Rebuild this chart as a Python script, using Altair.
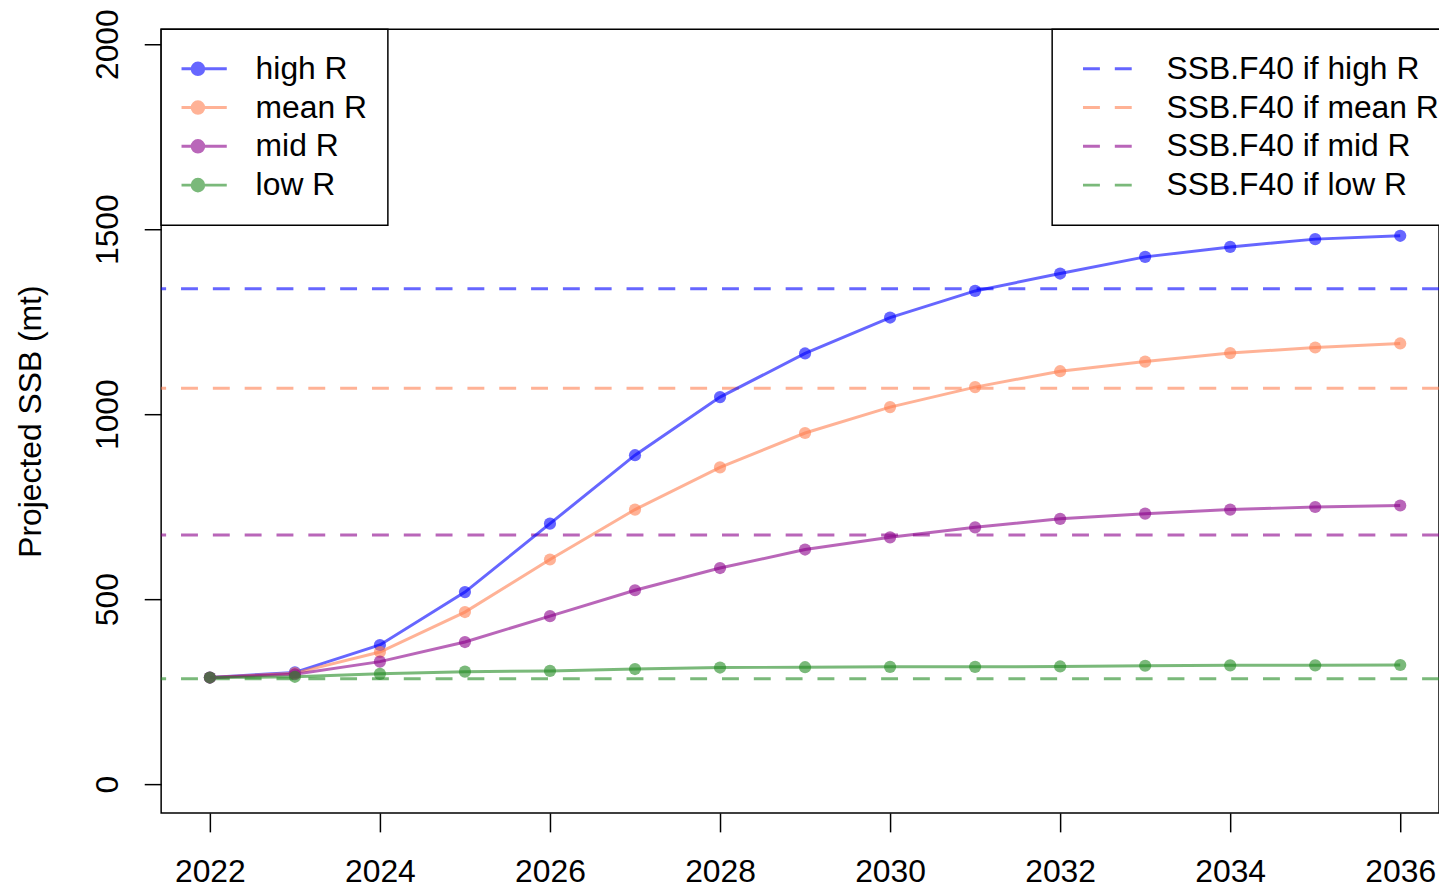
import altair as alt
import pandas as pd

years = list(range(2022, 2037))
series_names = ["high R", "mean R", "mid R", "low R"]
high_r = [288, 302, 376, 519, 704, 889, 1046, 1164, 1261, 1333, 1380, 1425, 1452, 1473, 1482]
mean_r = [288, 300, 357, 465, 607, 742, 856, 949, 1019, 1073, 1116, 1142, 1165, 1180, 1191]
mid_r = [288, 297, 331, 384, 454, 524, 584, 634, 667, 694, 717, 731, 742, 749, 753]
low_r = [288, 290, 298, 304, 306, 311, 315, 316, 317, 317, 318, 320, 321, 321, 322]
series_colors = ["#0000ff", "#ff7f50", "#8b008b", "#228b22"]

ref_names = ["SSB.F40 if high R", "SSB.F40 if mean R", "SSB.F40 if mid R", "SSB.F40 if low R"]
ref_values = [1339, 1070, 673, 285]

x_ticks = [2022, 2024, 2026, 2028, 2030, 2032, 2034, 2036]
y_ticks = [0, 500, 1000, 1500, 2000]

FONT = "Liberation Sans, Arial, sans-serif"
AXIS_FS = 32
LEG_FS = 32

rows = []
for name, vals in zip(series_names, [high_r, mean_r, mid_r, low_r]):
    for yr, v in zip(years, vals):
        rows.append({"year": yr, "ssb": v, "series": name})
df = pd.DataFrame(rows)
ref_df = pd.DataFrame({"ref": ref_names, "value": ref_values})

x_scale = alt.Scale(domain=[2021.427, 2036.456], nice=False, zero=False)
y_scale = alt.Scale(domain=[-78, 2040], nice=False, zero=False)

# legend glyph: a line with a dot in the middle
line_symbol = (
    "M-1,0L1,0"
    "M-0.2,0A0.2,0.2,0,1,1,0.2,0A0.2,0.2,0,1,1,-0.2,0"
    "M-0.12,0A0.12,0.12,0,1,1,0.12,0A0.12,0.12,0,1,1,-0.12,0"
    "M-0.04,0A0.04,0.04,0,1,1,0.04,0A0.04,0.04,0,1,1,-0.04,0"
)

color_legend = alt.Legend(
    orient="none", legendX=0, legendY=0, title=None, direction="vertical",
    strokeColor="black", fillColor="white", padding=20.5,
    symbolType=line_symbol, symbolSize=3364, symbolStrokeWidth=3,
    symbolOpacity=0.6, symbolOffset=-14, labelOffset=27.5,
    clipHeight=38.3, rowPadding=0, labelLimit=0,
)

x_axis = alt.Axis(
    values=x_ticks, format="d", title=None, tickSize=19, labelPadding=50,
    labelBaseline="alphabetic", grid=False, domain=False,
)
y_axis = alt.Axis(
    values=y_ticks, format="d", title="Projected SSB (mt)", tickSize=17, labelPadding=27,
    labelAngle=270, labelAlign="center", labelBaseline="alphabetic",
    titleAngle=270, titleAlign="center", titleBaseline="alphabetic",
    titleX=-121, titleY=394, grid=False, domain=False,
)

base = alt.Chart(df).encode(
    x=alt.X("year:Q", scale=x_scale, axis=x_axis),
    y=alt.Y("ssb:Q", scale=y_scale, axis=y_axis),
)

lines = base.mark_line(strokeWidth=3, opacity=0.6).encode(
    color=alt.Color(
        "series:N",
        scale=alt.Scale(domain=series_names, range=series_colors),
        legend=color_legend,
    )
)
points = base.mark_point(filled=True, size=150, opacity=0.6).encode(
    fill=alt.Fill(
        "series:N",
        scale=alt.Scale(domain=series_names, range=series_colors),
        legend=None,
    )
)

ref_legend = alt.Legend(
    orient="none", legendX=896, legendY=0, title=None, direction="vertical",
    strokeColor="black", fillColor="white", padding=20.5,
    symbolType="stroke", symbolSize=2401, symbolStrokeWidth=3,
    symbolDash=[17, 15], symbolOpacity=0.6, symbolOffset=9, labelOffset=33.5,
    clipHeight=38.3, rowPadding=0, labelLimit=0,
)
refs = alt.Chart(ref_df).mark_rule(strokeWidth=3, strokeDash=[17, 15], opacity=0.6).encode(
    y=alt.Y("value:Q", scale=y_scale),
    stroke=alt.Stroke(
        "ref:N",
        scale=alt.Scale(domain=ref_names, range=series_colors),
        legend=ref_legend,
    ),
)

chart = (
    alt.layer(refs, lines, points)
    .properties(
        width=1285,
        height=788,
        padding={"left": 154, "top": 19, "right": 0, "bottom": 76},
        autosize=alt.AutoSizeParams(type="none"),
        background="white",
    )
    .configure_view(stroke="black", strokeWidth=1.5)
    .configure_axis(
        labelFont=FONT, labelFontSize=AXIS_FS, labelColor="black",
        titleFont=FONT, titleFontSize=AXIS_FS, titleColor="black", titleFontWeight="normal",
        tickColor="black", tickWidth=1.5,
    )
    .configure_legend(
        labelFont=FONT, labelFontSize=LEG_FS, labelColor="black", strokeWidth=1.5,
    )
)

chart.save("out.html", embed_options={"renderer": "svg", "actions": False})
